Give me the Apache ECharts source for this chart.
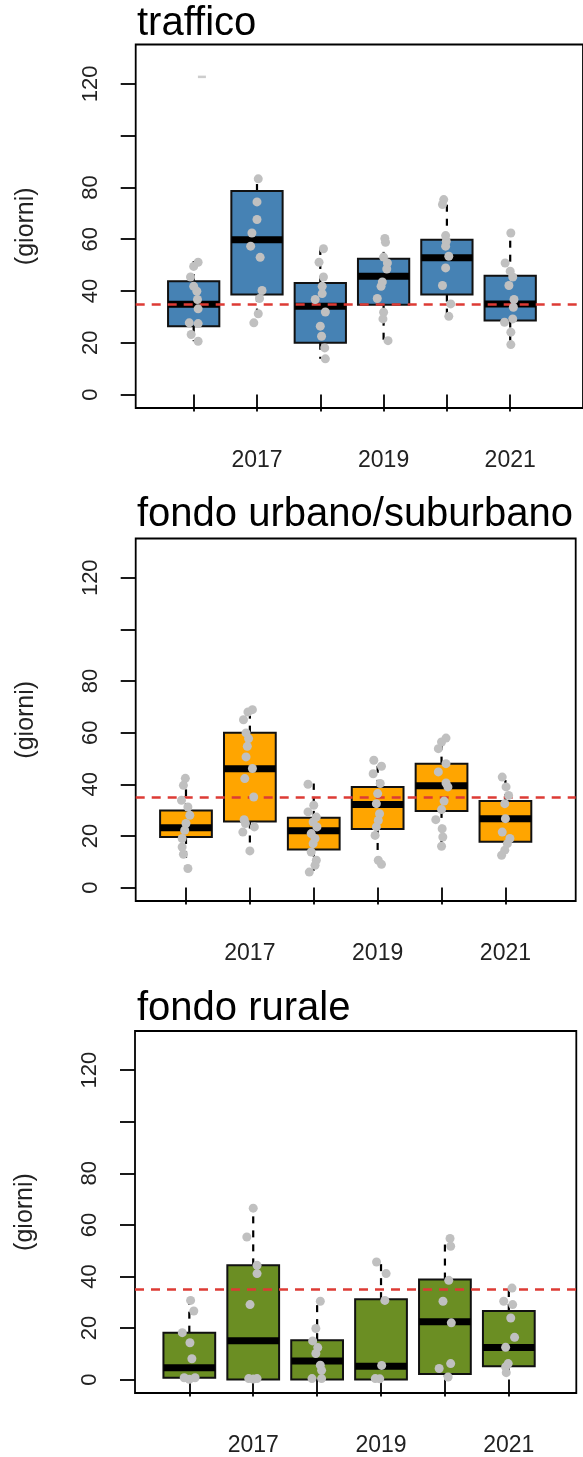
<!DOCTYPE html>
<html>
<head>
<meta charset="utf-8">
<script src="https://cdn.jsdelivr.net/npm/echarts@6/dist/echarts.min.js"></script>
<style>
  html, body { margin: 0; padding: 0; background: #fff; }
  #chart { width: 583px; height: 1457px; }
</style>
</head>
<body>
<div id="chart"></div>
<script>
const years = [2016, 2017, 2018, 2019, 2020, 2021]
const yTickValues = [0, 20, 40, 60, 80, 100, 120]
const yLabelValues = [0, 20, 40, 60, 80, 120]
const xLabelYears = [2017, 2019, 2021]
const threshold = 35

// [baffo basso, Q1, mediana, Q3, baffo alto] per anno
const trafficoStats = [
  [20.6, 26.4, 34.9, 43.8, 51.5],
  [27.7, 38.6, 59.8, 78.6, 83.4],
  [13.8, 20.0, 34.1, 43.1, 56.2],
  [20.6, 34.7, 45.7, 52.4, 60.5],
  [30.2, 38.6, 52.8, 59.8, 75.3],
  [19.3, 28.6, 35.0, 45.9, 62.4]
]
const urbanoStats = [
  [7.0, 19.6, 23.2, 29.9, 42.6],
  [14.5, 25.6, 46.0, 60.0, 69.3],
  [5.7, 14.7, 22.0, 27.0, 40.3],
  [9.3, 22.7, 32.2, 39.0, 49.3],
  [16.0, 29.7, 39.4, 48.0, 57.9],
  [12.5, 17.7, 26.7, 33.5, 42.8]
]
const ruraleStats = [
  [0, 0.7, 4.6, 18.2, 31.1],
  [0, 0, 15.1, 44.3, 66.8],
  [0, 0, 7.2, 15.3, 30.4],
  [0, 0, 5.2, 31.2, 45.9],
  [1.0, 2.2, 22.4, 38.8, 54.7],
  [2.7, 5.2, 12.4, 26.6, 35.5]
]

// singole stazioni: valori e spostamento orizzontale (jitter)
const trafficoPoints = [
  [51.1, 49.5, 45.4, 41.8, 39.9, 36.7, 33.1, 27.7, 27.4, 23.2, 20.6],
  [83.3, 74.4, 67.6, 62.4, 57.3, 53.0, 40.2, 37.1, 31.2, 27.7],
  [56.3, 51.1, 45.4, 41.8, 39.0, 36.7, 31.9, 26.4, 22.5, 18.0, 13.8],
  [60.3, 58.8, 53.1, 50.8, 48.5, 43.5, 41.8, 37.1, 31.8, 29.2, 20.8],
  [75.3, 73.4, 61.4, 59.2, 57.3, 53.4, 48.9, 42.1, 35.0, 30.2],
  [62.4, 50.8, 47.6, 45.4, 42.1, 36.7, 33.7, 29.2, 27.9, 24.1, 19.3]
]
const trafficoJitter = [
  [0.07, 0.0, -0.05, 0.0, 0.05, 0.06, 0.07, -0.07, 0.07, -0.04, 0.07],
  [0.02, 0.0, 0.0, -0.08, -0.10, 0.05, 0.08, 0.04, 0.02, -0.05],
  [0.05, -0.02, 0.05, 0.03, 0.03, -0.08, 0.08, 0.0, 0.02, 0.07, 0.08],
  [0.02, 0.03, 0.0, 0.06, 0.05, -0.02, -0.04, -0.10, 0.0, -0.01, 0.07],
  [-0.05, -0.07, -0.02, -0.01, -0.02, 0.03, -0.02, -0.07, 0.06, 0.03],
  [0.01, -0.08, 0.0, 0.04, -0.02, 0.06, 0.05, 0.04, -0.09, 0.01, 0.01]
]
const trafficoOutlier = [[1.13, 122.7]]

const urbanoPoints = [
  [42.3, 39.6, 33.8, 31.2, 28.0, 24.8, 22.2, 19.0, 15.7, 12.9, 7.4],
  [68.9, 68.0, 65.0, 59.9, 57.7, 54.7, 50.6, 46.1, 42.2, 35.1, 26.3, 24.8, 23.5, 21.5, 14.2],
  [40.0, 31.9, 29.3, 27.3, 25.4, 23.5, 20.9, 19.0, 17.0, 13.8, 10.6, 8.6, 6.0],
  [49.3, 47.0, 44.1, 40.3, 36.4, 32.5, 28.6, 26.0, 23.5, 20.2, 10.6, 9.0],
  [57.9, 56.4, 53.8, 48.0, 44.8, 40.5, 39.0, 33.5, 30.2, 26.3, 22.8, 19.6, 16.0],
  [42.8, 39.0, 35.7, 32.5, 26.7, 21.5, 19.0, 17.0, 14.5, 12.5]
]
const urbanoJitter = [
  [-0.01, -0.04, -0.07, 0.03, 0.06, 0.0, -0.02, -0.06, -0.06, -0.04, 0.03],
  [0.04, -0.03, -0.10, -0.06, -0.02, -0.04, -0.06, 0.04, -0.08, 0.06, -0.09, -0.07, 0.07, -0.11, 0.0],
  [-0.09, 0.0, -0.09, 0.04, -0.01, 0.05, -0.04, 0.02, -0.01, -0.04, 0.04, 0.02, -0.07],
  [-0.06, 0.06, -0.07, 0.04, 0.0, -0.02, 0.03, 0.01, -0.02, -0.04, 0.01, 0.06],
  [0.07, 0.0, -0.05, 0.07, -0.05, 0.07, 0.10, 0.04, 0.0, -0.09, 0.01, 0.02, 0.0],
  [-0.05, 0.01, 0.05, -0.01, 0.0, -0.05, 0.07, 0.03, -0.01, -0.06]
]

const ruralePoints = [
  [30.7, 26.6, 18.2, 14.3, 8.1, 0.7, 0.1, 0.7],
  [66.5, 55.3, 44.3, 41.1, 29.1, 0.4, 0.2, 0.4],
  [30.4, 19.8, 15.0, 12.4, 10.1, 5.6, 3.6, 0.4, 0.4],
  [45.6, 41.1, 30.7, 5.5, 0.4, 0.3],
  [54.7, 51.7, 38.5, 30.4, 22.0, 6.2, 4.3, 1.0],
  [35.5, 30.4, 29.1, 23.9, 16.4, 12.5, 6.2, 4.9, 2.7]
]
const ruraleJitter = [
  [0.02, 0.07, -0.11, 0.01, 0.04, -0.08, 0.0, 0.09],
  [0.0, -0.10, 0.06, 0.06, -0.05, -0.07, 0.0, 0.06],
  [0.05, -0.02, -0.07, 0.01, -0.02, 0.05, 0.07, -0.08, 0.07],
  [-0.07, 0.08, 0.06, 0.01, -0.09, -0.02],
  [0.08, 0.09, 0.06, -0.03, 0.10, 0.09, -0.09, 0.05],
  [0.05, -0.08, 0.06, 0.03, 0.09, -0.05, -0.01, -0.05, -0.04]
]

const FONT = '"Liberation Sans", Arial, Helvetica, sans-serif'
const BOX_HALF = 0.405

const panels = [
  { title: 'traffico', fill: '#4682B4', stats: trafficoStats, points: trafficoPoints, jitter: trafficoJitter,
    titleTop: 4, left: 135.7, top: 44.5, width: 452, height: 363.5, xMin: 0.084, xMax: 7.15 },
  { title: 'fondo urbano/suburbano', fill: '#FFA500', stats: urbanoStats, points: urbanoPoints, jitter: urbanoJitter,
    titleTop: 495, left: 135.7, top: 538.5, width: 440, height: 362.5, xMin: 0.213, xMax: 7.10 },
  { title: 'fondo rurale', fill: '#6B8E23', stats: ruraleStats, points: ruralePoints, jitter: ruraleJitter,
    titleTop: 989, left: 135, top: 1031, width: 441.3, height: 363, xMin: 0.150, xMax: 7.056 }
]

const renderBox = (fill) => (params, api) => {
  const x = api.value(0)
  const lo = api.value(1), q1 = api.value(2), med = api.value(3), q3 = api.value(4), hi = api.value(5)
  const tl = api.coord([x - BOX_HALF, q3])
  const br = api.coord([x + BOX_HALF, q1])
  const mL = api.coord([x - BOX_HALF, med])
  const mR = api.coord([x + BOX_HALF, med])
  const cQ3 = api.coord([x, q3]), cHi = api.coord([x, hi])
  const cQ1 = api.coord([x, q1]), cLo = api.coord([x, lo])
  const dash = { stroke: '#000', lineWidth: 2.2, lineDash: [7, 7] }
  return {
    type: 'group',
    children: [
      { type: 'line', shape: { x1: cQ3[0], y1: cQ3[1], x2: cHi[0], y2: cHi[1] }, style: dash },
      { type: 'line', shape: { x1: cQ1[0], y1: cQ1[1], x2: cLo[0], y2: cLo[1] }, style: dash },
      { type: 'rect', shape: { x: tl[0], y: tl[1], width: br[0] - tl[0], height: br[1] - tl[1] },
        style: { fill, stroke: '#111', lineWidth: 2 } },
      { type: 'line', shape: { x1: mL[0], y1: mL[1], x2: mR[0], y2: mR[1] },
        style: { stroke: '#000', lineWidth: 7 } }
    ]
  }
}

const option = {
  animation: false,
  backgroundColor: '#fff',
  title: panels.map(p => ({
    text: p.title, left: 137, top: p.titleTop, padding: 0,
    textStyle: { fontFamily: FONT, fontSize: 40, fontWeight: 'normal', color: '#000', lineHeight: 40 }
  })),
  grid: panels.map(p => ({
    left: p.left, top: p.top, width: p.width, height: p.height,
    show: true, borderColor: '#000', borderWidth: 1.8, backgroundColor: 'transparent'
  })),
  xAxis: panels.map((p, i) => ({
    type: 'value', gridIndex: i, min: p.xMin, max: p.xMax,
    axisLine: { show: false },
    splitLine: { show: false },
    axisTick: { show: true, length: 17, lineStyle: { color: '#000', width: 1.8 },
      customValues: years.map((y, k) => k + 1) },
    axisLabel: { fontFamily: FONT, fontSize: 23, color: '#222', margin: 41,
      customValues: xLabelYears.map(y => years.indexOf(y) + 1),
      formatter: v => String(years[Math.round(v) - 1]) }
  })),
  yAxis: panels.map((p, i) => ({
    type: 'value', gridIndex: i, min: -5.2, max: 135.2,
    name: '(giorni)', nameLocation: 'middle', nameGap: 97,
    nameTextStyle: { fontFamily: FONT, fontSize: 25, color: '#222' },
    axisLine: { show: false },
    splitLine: { show: false },
    axisTick: { show: true, length: 15, lineStyle: { color: '#000', width: 1.8 }, customValues: yTickValues },
    axisLabel: { fontFamily: FONT, fontSize: 22, color: '#222', rotate: 90, margin: 34, customValues: yLabelValues }
  })),
  series: []
}

panels.forEach((p, i) => {
  option.series.push({
    type: 'custom', xAxisIndex: i, yAxisIndex: i, z: 2,
    renderItem: renderBox(p.fill),
    encode: { x: 0, y: [1, 2, 3, 4, 5] },
    data: p.stats.map((s, k) => [k + 1, ...s])
  })
  const pts = []
  p.points.forEach((vals, k) => {
    vals.forEach((v, j) => pts.push([k + 1 + p.jitter[k][j], v]))
  })
  option.series.push({
    type: 'scatter', xAxisIndex: i, yAxisIndex: i, z: 4,
    symbolSize: 9,
    itemStyle: { color: '#C0C0C0', opacity: 1 },
    data: pts,
    markLine: {
      silent: true, symbol: 'none', z: 3,
      label: { show: false },
      lineStyle: { color: '#DD3B35', width: 2.5, type: [9, 7] },
      data: [{ yAxis: threshold }]
    }
  })
})

// punto anomalo tagliato in alto (traffico 2016)
option.series.push({
  type: 'scatter', xAxisIndex: 0, yAxisIndex: 0, z: 4,
  symbol: 'rect', symbolSize: [8, 2.5],
  itemStyle: { color: '#C0C0C0' },
  data: trafficoOutlier
})

const chart = echarts.init(document.getElementById('chart'))
chart.setOption(option)
</script>
</body>
</html>
